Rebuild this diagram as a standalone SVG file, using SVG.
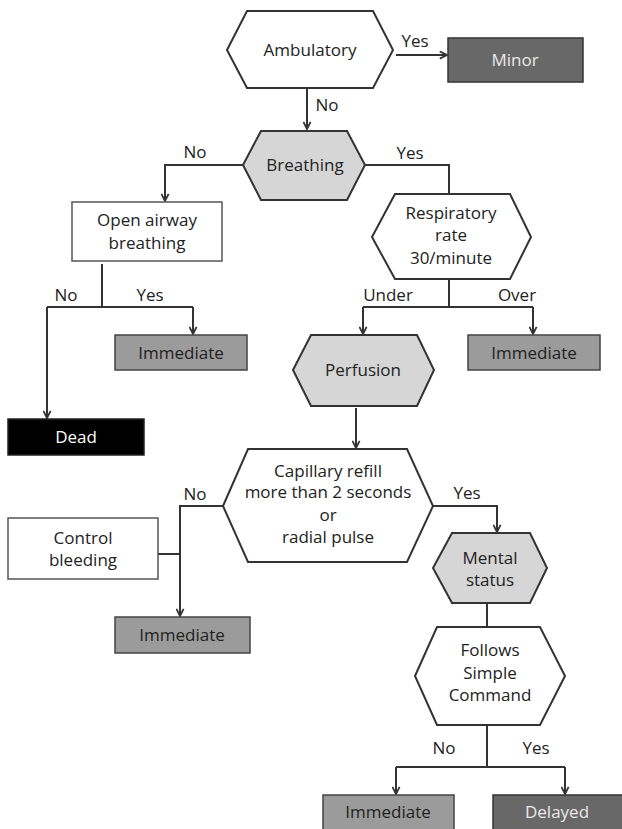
<svg xmlns="http://www.w3.org/2000/svg" width="622" height="829" viewBox="0 0 622 829">
<style>
text{font-family:"Open Sans","Noto Sans","Liberation Sans",sans-serif;font-size:17px;fill:#222;text-anchor:middle}
.hw{fill:#fff;stroke:#333;stroke-width:2;stroke-linejoin:miter}
.hg{fill:#d6d6d6;stroke:#333;stroke-width:2}
.bw{fill:#fff;stroke:#555;stroke-width:1.5}
.imm{fill:#9b9b9b;stroke:#444;stroke-width:1.5}
.dk{fill:#686868;stroke:#333;stroke-width:1.5}
.blk{fill:#000;stroke:#222;stroke-width:1.5}
.lt{fill:#e8e8e8}
.wt{fill:#fff}
.c path{fill:none;stroke:#333;stroke-width:2}
</style>
<defs>
<marker id="arr" viewBox="0 0 10 10" refX="9" refY="5" markerWidth="9" markerHeight="9" markerUnits="userSpaceOnUse" orient="auto">
<path d="M1,1 L9,5 L1,9" fill="none" stroke="#333" stroke-width="2"/>
</marker>
</defs>
<g class="c" id="connectors">
<path d="M396,55 L447,55" marker-end="url(#arr)"/>
<path d="M307,88 L307,129" marker-end="url(#arr)"/>
<path d="M243,165 L165,165 L165,201" marker-end="url(#arr)"/>
<path d="M365,165 L449,165 L449,194"/>
<path d="M102,264 L102,307"/>
<path d="M47,307 L193,307"/>
<path d="M193,307 L193,334" marker-end="url(#arr)"/>
<path d="M47,307 L47,418" marker-end="url(#arr)"/>
<path d="M449,279 L449,307"/>
<path d="M363,307 L533,307"/>
<path d="M363,307 L363,334" marker-end="url(#arr)"/>
<path d="M533,307 L533,334" marker-end="url(#arr)"/>
<path d="M356,408 L356,448" marker-end="url(#arr)"/>
<path d="M223,506 L180,506 L180,616" marker-end="url(#arr)"/>
<path d="M158,554 L180,554"/>
<path d="M433,506 L497,506 L497,532" marker-end="url(#arr)"/>
<path d="M487,603 L487,627"/>
<path d="M487,725 L487,767"/>
<path d="M396,767 L565,767"/>
<path d="M396,767 L396,794" marker-end="url(#arr)"/>
<path d="M565,767 L565,794" marker-end="url(#arr)"/>
<text x="415" y="47">Yes</text>
<text x="327" y="111">No</text>
<text x="195" y="158">No</text>
<text x="410" y="159">Yes</text>
<text x="66" y="301">No</text>
<text x="150" y="301">Yes</text>
<text x="388" y="301">Under</text>
<text x="517" y="301">Over</text>
<text x="195" y="500">No</text>
<text x="467" y="499">Yes</text>
<text x="444" y="754">No</text>
<text x="536" y="754">Yes</text>
</g>
<g id="ambulatory">
<polygon class="hw" points="227,50 247,11 373,11 393,50 373,88 247,88"/>
<text x="310" y="56">Ambulatory</text>
</g>
<g id="minor">
<rect class="dk" x="448" y="38" width="135" height="44"/>
<text class="lt" x="515" y="66">Minor</text>
</g>
<g id="breathing">
<polygon class="hg" points="243,165 261,131 347,131 365,165 347,200 261,200"/>
<text x="305" y="171">Breathing</text>
</g>
<g id="open-airway">
<rect class="bw" x="72" y="202" width="150" height="59"/>
<text x="147" y="226">Open airway</text>
<text x="147" y="249">breathing</text>
</g>
<g id="immediate-1">
<rect class="imm" x="115" y="335" width="132" height="35"/>
<text x="181" y="359">Immediate</text>
</g>
<g id="dead">
<rect class="blk" x="8" y="419" width="136" height="36"/>
<text class="wt" x="76" y="443">Dead</text>
</g>
<g id="respiratory">
<polygon class="hw" points="372,237 395,194 510,194 531,237 510,279 395,279"/>
<text x="451" y="219">Respiratory</text>
<text x="451" y="241">rate</text>
<text x="451" y="264">30/minute</text>
</g>
<g id="immediate-2">
<rect class="imm" x="468" y="335" width="132" height="35"/>
<text x="534" y="359">Immediate</text>
</g>
<g id="perfusion">
<polygon class="hg" points="293,370 311,335 417,335 434,370 417,406 311,406"/>
<text x="363" y="376">Perfusion</text>
</g>
<g id="capillary">
<polygon class="hw" points="223,506 248,449 407,449 433,506 407,562 248,562"/>
<text x="328" y="477">Capillary refill</text>
<text x="328" y="498">more than 2 seconds</text>
<text x="328" y="521">or</text>
<text x="328" y="543">radial pulse</text>
</g>
<g id="control-bleeding">
<rect class="bw" x="8" y="518" width="150" height="61"/>
<text x="83" y="544">Control</text>
<text x="83" y="566">bleeding</text>
</g>
<g id="immediate-3">
<rect class="imm" x="115" y="617" width="135" height="36"/>
<text x="182" y="641">Immediate</text>
</g>
<g id="mental-status">
<polygon class="hg" points="433,568 452,533 530,533 547,568 530,603 452,603"/>
<text x="490" y="564">Mental</text>
<text x="490" y="586">status</text>
</g>
<g id="follows">
<polygon class="hw" points="415,676 437,627 540,627 565,676 540,725 437,725"/>
<text x="490" y="656">Follows</text>
<text x="490" y="679">Simple</text>
<text x="490" y="701">Command</text>
</g>
<g id="immediate-4">
<rect class="imm" x="323" y="795" width="131" height="40"/>
<text x="388" y="818">Immediate</text>
</g>
<g id="delayed">
<rect class="dk" x="493" y="795" width="135" height="40"/>
<text class="lt" x="557" y="818">Delayed</text>
</g>
</svg>
